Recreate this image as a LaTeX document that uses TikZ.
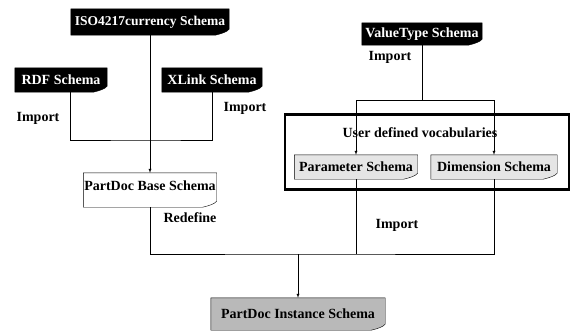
\documentclass[tikz,border=0pt]{standalone}
\usepackage{fontspec}
\setmainfont{Liberation Serif}
\usetikzlibrary{backgrounds}

% outline of a schema document, curled at the lower right
\newcommand{\docbox}[2]{\draw[#2] (#1.south west) -- ([xshift=-14pt]#1.south east)
  .. controls ([xshift=-6pt,yshift=2pt]#1.south east) and ([xshift=-3pt,yshift=3pt]#1.south east) ..
  ([yshift=6pt]#1.south east) -- (#1.north east) -- (#1.north west) -- cycle;}

\begin{document}
\begin{tikzpicture}
	[x=1pt, y=-1pt,
	every node/.style={font=\fontsize{14}{16}\selectfont\bfseries, inner sep=0pt},
	schema/.style={minimum height=24pt},
	dark/.style={schema, text=white}]
	\useasboundingbox (0,0) rectangle (577,332);
	\node (iso) [dark, minimum width=158pt, minimum height=26pt, font=\fontsize{13.5}{16}\selectfont\bfseries] at (150,22) {ISO4217currency Schema};
	\node (rdf) [dark, minimum width=92pt] at (61,80) {RDF Schema};
	\node (xlink) [dark, minimum width=100pt] at (212,80) {XLink Schema};
	\node (base) [schema, minimum width=133pt, minimum height=34pt, text depth=8pt] at (150,190) {PartDoc Base Schema};
	\node (value) [dark, minimum width=120pt, minimum height=22pt] at (422,34) {ValueType Schema};
	\node (udv) [draw, line width=2.5pt, minimum width=284pt, minimum height=75pt] at (427,152) {};
	\node (udvtitle) at (420,133) {User defined vocabularies};
	\node (param) [schema, minimum width=123pt] at (356,167) {Parameter Schema};
	\node (dim) [schema, minimum width=126pt] at (494,167) {Dimension Schema};
	\node (inst) [schema, minimum width=174pt, minimum height=32pt] at (298,314) {PartDoc Instance Schema};
	% labels
	\node (imp1) at (38,118) {Import};
	\node (imp2) at (245,108) {Import};
	\node (imp3) at (390,57) {Import};
	\node (imp4) at (397,225) {Import};
	\node (redef) at (190,218) {Redefine};
	% joints
	\coordinate (bus1) at (150,140);
	\coordinate (vbus) at (422,100);
	\coordinate (ibus) at (298,254);
	\draw [-latex] (iso) -- (base);
	\draw ([xshift=9pt]rdf.south) |- (bus1) -| (xlink.south);
	\draw (value) -- (vbus);
	\draw [-latex] (vbus) -| (param.north);
	\draw [-latex] (vbus) -| (dim.north);
	\draw (base) |- (ibus) -| (dim.south);
	\draw (param.south) -- (param.south |- ibus);
	\draw [-latex] (ibus) -- (inst);
	\begin{scope}[on background layer]
	\docbox{iso}{fill=black}
	\docbox{rdf}{fill=black}
	\docbox{xlink}{fill=black}
	\docbox{value}{fill=black}
	\docbox{base}{fill=white}
	\docbox{param}{fill=gray!20}
	\docbox{dim}{fill=gray!20}
	\docbox{inst}{fill=gray!55}
	\end{scope}
\end{tikzpicture}
\end{document}
